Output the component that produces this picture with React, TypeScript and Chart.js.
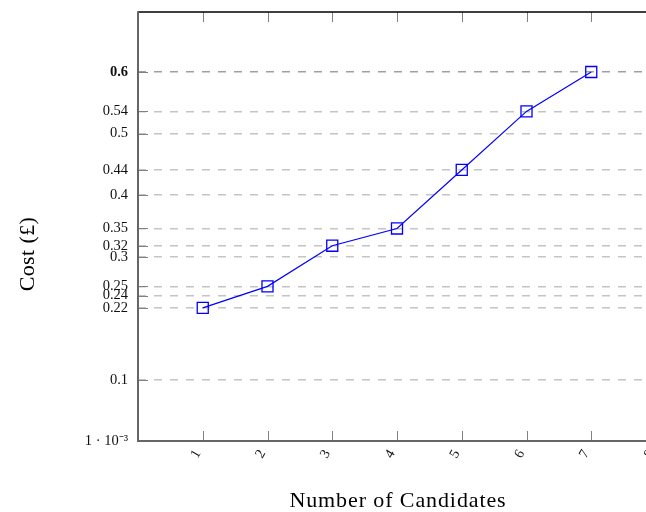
import React, { useEffect, useRef } from 'react';
import { Chart, registerables } from 'chart.js';

Chart.register(...registerables);

const candidates = [1, 2, 3, 4, 5, 6, 7];
const costs = [0.217, 0.252, 0.318, 0.346, 0.441, 0.536, 0.6];
const yTickValues = [0.001, 0.1, 0.217, 0.237, 0.252, 0.3, 0.318, 0.346, 0.4, 0.441, 0.5, 0.536, 0.6];
const xTickValues = [1, 2, 3, 4, 5, 6, 7, 8];
const xTitle = 'Number of Candidates';
const yTitle = 'Cost (£)';

const SERIF = '"Liberation Serif", "Times New Roman", serif';

const framePlugin = {
  id: 'frame',
  afterDraw(chart: any) {
    const { ctx, chartArea } = chart;
    const { left, right, top, bottom } = chartArea;
    const xs = chart.scales.x;
    const ys = chart.scales.y;
    ctx.save();
    // tick marks
    ctx.strokeStyle = '#808080';
    ctx.lineWidth = 1;
    ctx.setLineDash([]);
    for (const v of xTickValues) {
      const px = Math.round(xs.getPixelForValue(v)) + 0.5;
      ctx.beginPath();
      ctx.moveTo(px, bottom);
      ctx.lineTo(px, bottom - 10);
      ctx.moveTo(px, top);
      ctx.lineTo(px, top + 10);
      ctx.stroke();
    }
    for (const v of yTickValues) {
      const py = Math.round(ys.getPixelForValue(v)) + 0.5;
      ctx.beginPath();
      ctx.moveTo(left, py);
      ctx.lineTo(left + 10, py);
      ctx.moveTo(right, py);
      ctx.lineTo(right - 10, py);
      ctx.stroke();
    }
    // borders
    ctx.lineWidth = 1.4;
    ctx.strokeStyle = '#000000';
    ctx.beginPath();
    ctx.moveTo(left, top);
    ctx.lineTo(right, top);
    ctx.moveTo(right, top);
    ctx.lineTo(right, bottom);
    ctx.stroke();
    ctx.lineWidth = 2;
    ctx.strokeStyle = '#666666';
    ctx.beginPath();
    ctx.moveTo(left, top - 0.7);
    ctx.lineTo(left, bottom);
    ctx.lineTo(right, bottom);
    ctx.stroke();

    // titles
    ctx.fillStyle = '#000000';
    ctx.font = `22px ${SERIF}`;
    (ctx as any).letterSpacing = '0.9px';
    ctx.textAlign = 'center';
    ctx.textBaseline = 'alphabetic';
    ctx.fillText(xTitle, (left + right) / 2 + 1, bottom + 66);
    ctx.translate(34, 254);
    ctx.rotate(-Math.PI / 2);
    (ctx as any).letterSpacing = '0.4px';
    ctx.fillText(yTitle, 0, 0);
    ctx.restore();
  },
};

export default function App() {
  const canvasRef = useRef<HTMLCanvasElement | null>(null);

  useEffect(() => {
    const canvas = canvasRef.current;
    if (!canvas) return;
    const chart = new Chart(canvas, {
      type: 'line',
      data: {
        datasets: [
          {
            data: candidates.map((x, i) => ({ x, y: costs[i] })),
            borderColor: '#0000ff',
            borderWidth: 1.2,
            pointStyle: 'rect',
            pointRadius: 7.8,
            pointBorderWidth: 1.3,
            pointBorderColor: '#0000ff',
            pointBackgroundColor: 'rgba(0,0,0,0)',
            tension: 0,
            clip: false as any,
          },
        ],
      },
      options: {
        animation: false,
        responsive: false,
        devicePixelRatio: 1,
        layout: { padding: { left: 0, top: 12, right: 24, bottom: 0 } },
        plugins: {
          legend: { display: false },
          tooltip: { enabled: false },
        },
        scales: {
          x: {
            type: 'linear',
            min: 0,
            max: 8,
            afterBuildTicks: (s: any) => {
              s.ticks = xTickValues.map((v) => ({ value: v }));
            },
            afterFit: (s: any) => {
              s.height = 71;
              s.paddingLeft = 0;
              s.paddingRight = 0;
            },
            grid: { display: false, drawTicks: false },
            border: { display: false },
            ticks: {
              autoSkip: false,
              minRotation: 60,
              maxRotation: 60,
              padding: 6,
              labelOffset: -5,
              color: '#111111',
              font: { family: SERIF, size: 14 },
              callback: (v: any) => String(v),
            },
          },
          y: {
            type: 'linear',
            min: 0.001,
            max: 0.6974,
            afterBuildTicks: (s: any) => {
              s.ticks = yTickValues.map((v) => ({ value: v }));
            },
            afterFit: (s: any) => {
              s.width = 138;
              s.paddingTop = 0;
              s.paddingBottom = 0;
            },
            grid: {
              drawTicks: false,
              lineWidth: 1.5,
              color: (c: any) => (c.tick && c.tick.value === 0.6 ? '#a0a0a0' : '#c4c4c4'),
            },
            border: { display: false, dash: [8, 8], dashOffset: 0 },
            ticks: {
              autoSkip: false,
              padding: 10,
              color: '#111111',
              font: (c: any) => ({
                family: SERIF,
                size: 14.5,
                weight: c.tick && c.tick.value === 0.6 ? 'bold' : 'normal',
              }),
              callback: (v: any) => (v === 0.001 ? '1 · 10⁻³' : String(Math.round(v * 100) / 100)),
            },
          },
        },
      },
      plugins: [framePlugin],
    });
    return () => chart.destroy();
  }, []);

  return (
    <div
      style={{
        position: 'fixed',
        left: 0,
        top: 0,
        width: 646,
        height: 512,
        overflow: 'hidden',
        background: '#ffffff',
      }}
    >
      <canvas
        ref={canvasRef}
        width={680}
        height={512}
        style={{ display: 'block', width: 680, height: 512 }}
      />
    </div>
  );
}
